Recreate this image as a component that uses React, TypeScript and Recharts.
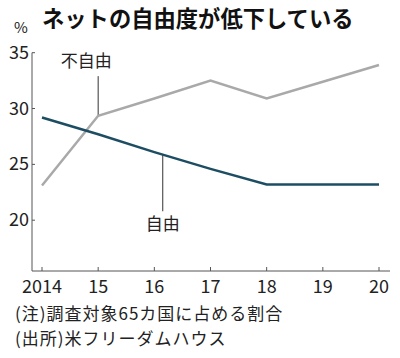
import { Line, LineChart, ReferenceLine, XAxis, YAxis } from "recharts";

const years = [2014, 2015, 2016, 2017, 2018, 2019, 2020];
const notFree = [23.1, 29.35, 30.9, 32.5, 30.9, 32.4, 33.9];
const free = [29.2, 27.7, 26.1, 24.6, 23.2, 23.2, 23.2];
const yTicks = [20, 25, 30, 35];
const xTickLabels = ["2014", "15", "16", "17", "18", "19", "20"];

const data = years.map((year, i) => ({
  year,
  notFree: notFree[i],
  free: free[i],
}));

const FONT = "'Liberation Sans Narrow', 'Noto Sans CJK JP', sans-serif";
const JP = "'Noto Sans CJK JP', sans-serif";
const AXIS = "#555";

function XTick(props: any) {
  const { x, y, payload, index } = props;
  return (
    <g>
      <line stroke={AXIS} x1={x} x2={x} y1={y - 4} y2={y} />
      <text fill="#222" fontFamily={FONT} fontSize={18} textAnchor="middle" x={x} y={y + 22}>
        {xTickLabels[index] ?? payload.value}
      </text>
    </g>
  );
}

function YTick(props: any) {
  const { x, y, payload } = props;
  return (
    <g>
      <line stroke={AXIS} x1={x} x2={x + 3} y1={y} y2={y} />
      <text fill="#222" fontFamily={FONT} fontSize={18} textAnchor="end" x={x - 3} y={y + 6}>
        {payload.value}
      </text>
    </g>
  );
}

const noteStyle = {
  position: "absolute" as const,
  left: 15,
  fontFamily: JP,
  fontSize: 17,
  letterSpacing: 1,
  lineHeight: "24px",
  color: "#222",
  whiteSpace: "nowrap" as const,
};

export default function App() {
  return (
    <div style={{ position: "absolute", left: 0, top: 0, width: 400, height: 358, background: "#fff" }}>
      <div
        style={{
          position: "absolute",
          left: 42,
          top: 2,
          fontFamily: JP,
          fontWeight: 700,
          fontSize: 22.3,
          lineHeight: "30px",
          color: "#111",
          whiteSpace: "nowrap",
        }}
      >
        ネットの自由度が低下している
      </div>
      <div style={{ position: "absolute", left: 14, top: 16, fontFamily: JP, fontSize: 15, color: "#222" }}>%</div>
      <LineChart
        data={data}
        height={358}
        margin={{ top: 52.7, right: 10, bottom: 57, left: 0 }}
        width={400}
      >
        <XAxis
          axisLine={{ stroke: AXIS }}
          dataKey="year"
          domain={[2014, 2020]}
          height={30}
          padding={{ left: 10, right: 11 }}
          tick={<XTick />}
          tickLine={false}
          tickMargin={0}
          tickSize={0}
          ticks={years}
          type="number"
        />
        <YAxis
          axisLine={{ stroke: AXIS }}
          domain={[15.45, 35]}
          tick={<YTick />}
          tickLine={false}
          tickMargin={0}
          tickSize={0}
          ticks={yTicks}
          type="number"
          width={32}
        />
        <ReferenceLine
          ifOverflow="visible"
          label={(p: any) => (
            <text fill="#222" fontFamily={JP} fontSize={17} textAnchor="middle" x={p.viewBox.x - 12} y={p.viewBox.y - 9}>
              不自由
            </text>
          )}
          segment={[
            { x: 2015, y: 29.4 },
            { x: 2015, y: 32.9 },
          ]}
          stroke="#333"
          strokeWidth={1}
        />
        <ReferenceLine
          ifOverflow="visible"
          label={(p: any) => (
            <text
              fill="#222"
              fontFamily={JP}
              fontSize={17}
              textAnchor="middle"
              x={p.viewBox.x}
              y={p.viewBox.y + p.viewBox.height + 19}
            >
              自由
            </text>
          )}
          segment={[
            { x: 2016.15, y: 20.8 },
            { x: 2016.15, y: 25.9 },
          ]}
          stroke="#333"
          strokeWidth={1}
        />
        <Line
          dataKey="notFree"
          dot={false}
          isAnimationActive={false}
          stroke="#a9a9a9"
          strokeWidth={2.5}
          type="linear"
        />
        <Line
          dataKey="free"
          dot={false}
          isAnimationActive={false}
          stroke="#1d4d62"
          strokeWidth={2.5}
          type="linear"
        />
      </LineChart>
      <div style={{ ...noteStyle, top: 301 }}>(注)調査対象65カ国に占める割合</div>
      <div style={{ ...noteStyle, top: 326 }}>(出所)米フリーダムハウス</div>
    </div>
  );
}
